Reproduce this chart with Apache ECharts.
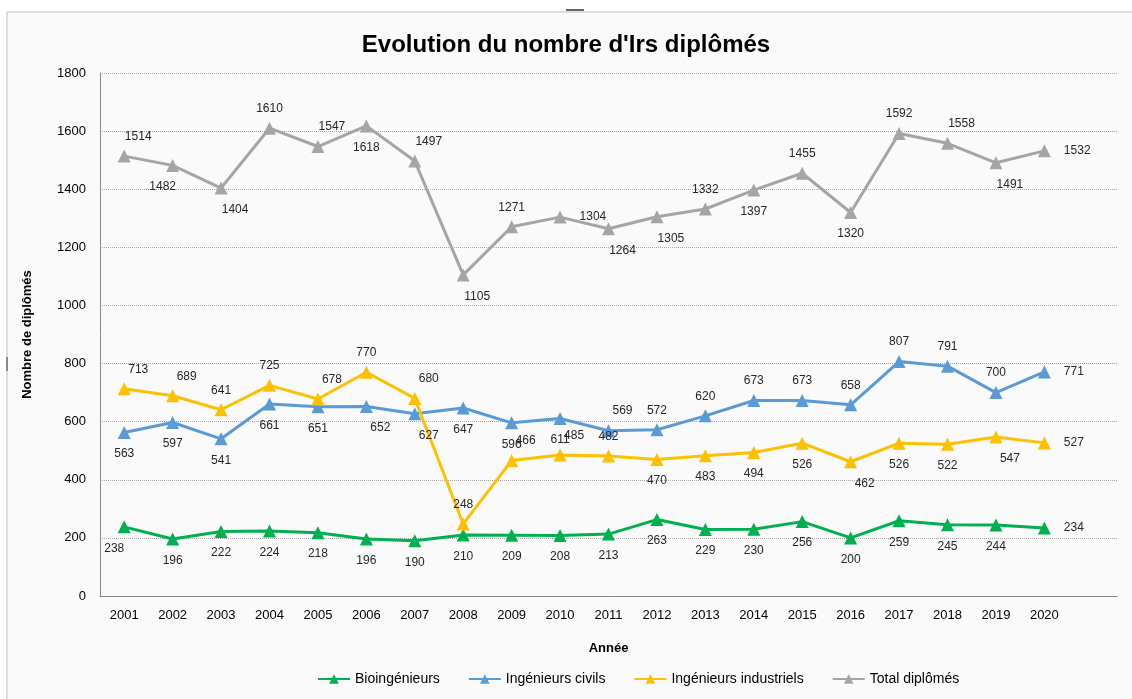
<!DOCTYPE html>
<html>
<head>
<meta charset="utf-8">
<script src="https://cdn.jsdelivr.net/npm/echarts@6/dist/echarts.min.js"></script>
<style>
  html, body { margin: 0; padding: 0; background: #ffffff; }
  #chart { width: 1132px; height: 699px; }
</style>
</head>
<body>
<div id="chart"></div>
<script>
const years = ["2001", "2002", "2003", "2004", "2005", "2006", "2007", "2008", "2009", "2010",
  "2011", "2012", "2013", "2014", "2015", "2016", "2017", "2018", "2019", "2020", ""];

const bioData = [238, 196, 222, 224, 218, 196, 190, 210, 209, 208, 213, 263, 229, 230, 256, 200, 259, 245, 244, 234];
const civilsData = [563, 597, 541, 661, 651, 652, 627, 647, 596, 611, 569, 572, 620, 673, 673, 658, 807, 791, 700, 771];
const industrielsData = [713, 689, 641, 725, 678, 770, 680, 248, 466, 485, 482, 470, 483, 494, 526, 462, 526, 522, 547, 527];
const totalData = [1514, 1482, 1404, 1610, 1547, 1618, 1497, 1105, 1271, 1304, 1264, 1305, 1332, 1397, 1455, 1320, 1592, 1558, 1491, 1532];

// label placement per point, like Excel put them
const bioPos = ["bl", "b", "b", "b", "b", "b", "b", "b", "b", "b", "b", "b", "b", "b", "b", "b", "b", "b", "b", "r"];
const civilsPos = ["b", "b", "b", "b", "b", "br", "br", "b", "b", "b", "tr", "t", "t", "t", "t", "t", "t", "t", "t", "r"];
const industrielsPos = ["tr", "tr", "t", "t", "tr", "t", "tr", "t", "tr", "tr", "t", "b", "b", "b", "b", "br", "b", "b", "br", "r"];
const totalPos = ["tr", "bl", "br", "t", "tr", "b", "tr", "br", "t", "r", "br", "br", "t", "b", "t", "b", "t", "tr", "br", "r"];

const FONT = "'Liberation Sans', sans-serif";

function labelFor(code) {
  const map = {
    t: { position: "top", offset: [0, -2] },
    b: { position: "bottom", offset: [0, 4] },
    r: { position: "right", offset: [8, 0] },
    tr: { position: "top", offset: [14, -2] },
    br: { position: "bottom", offset: [14, 4] },
    bl: { position: "bottom", offset: [-10, 4] },
  };
  return map[code];
}

function buildSeries(name, values, positions, color) {
  return {
    name: name,
    type: "line",
    symbol: "triangle",
    symbolSize: 13,
    lineStyle: { width: 3, color: color },
    itemStyle: { color: color },
    data: values.map((v, i) => ({ value: v, label: labelFor(positions[i]) })),
    label: {
      show: true,
      color: "#262626",
      fontSize: 12,
      fontFamily: FONT,
    },
    z: 3,
  };
}

const chart = echarts.init(document.getElementById("chart"));

const option = {
  backgroundColor: "#ffffff",
  animation: false,
  graphic: [
    {
      type: "rect",
      shape: { x: 7, y: 12, width: 1200, height: 800 },
      style: { fill: "#fafafa", stroke: "#bfbfbf", lineWidth: 1 },
      z: -10,
      silent: true,
    },
    {
      type: "rect",
      shape: { x: 566, y: 9, width: 18, height: 2 },
      style: { fill: "#666666" },
      silent: true,
    },
    {
      type: "rect",
      shape: { x: 6, y: 357, width: 2, height: 14 },
      style: { fill: "#888888" },
      silent: true,
    },
  ],
  title: {
    text: "Evolution du nombre d'Irs diplômés",
    left: "center",
    top: 28,
    textStyle: {
      fontFamily: FONT,
      fontSize: 24,
      fontWeight: "bold",
      color: "#000000",
    },
  },
  legend: {
    bottom: 8,
    left: 312,
    itemWidth: 32,
    itemHeight: 12,
    itemGap: 28,
    textStyle: { fontFamily: FONT, fontSize: 14, color: "#000000" },
    data: ["Bioingénieurs", "Ingénieurs civils", "Ingénieurs industriels", "Total diplômés"],
  },
  grid: {
    left: 100,
    right: 15,
    top: 73,
    bottom: 103,
  },
  xAxis: {
    type: "category",
    data: years,
    boundaryGap: true,
    name: "Année",
    nameLocation: "middle",
    nameGap: 46,
    nameTextStyle: { fontFamily: FONT, fontSize: 13, fontWeight: "bold", color: "#000" },
    axisLine: { lineStyle: { color: "#868686" } },
    axisTick: { alignWithLabel: true, length: 5, lineStyle: { color: "#868686" } },
    axisLabel: { fontFamily: FONT, fontSize: 13, color: "#000", margin: 13, interval: 0 },
  },
  yAxis: {
    type: "value",
    min: 0,
    max: 1800,
    interval: 200,
    name: "Nombre de diplômés",
    nameLocation: "middle",
    nameGap: 66,
    nameTextStyle: { fontFamily: FONT, fontSize: 13, fontWeight: "bold", color: "#000" },
    axisLine: { show: true, lineStyle: { color: "#868686" } },
    axisTick: { show: false },
    axisLabel: { fontFamily: FONT, fontSize: 13, color: "#000", margin: 14, formatter: (v) => String(v) },
    splitLine: { lineStyle: { color: "#a6a6a6", type: [1, 1], width: 1 } },
  },
  series: [
    buildSeries("Bioingénieurs", bioData, bioPos, "#00b050"),
    buildSeries("Ingénieurs civils", civilsData, civilsPos, "#5b9bd5"),
    buildSeries("Ingénieurs industriels", industrielsData, industrielsPos, "#ffc000"),
    buildSeries("Total diplômés", totalData, totalPos, "#a5a5a5"),
  ],
};

chart.setOption(option);
</script>
</body>
</html>
